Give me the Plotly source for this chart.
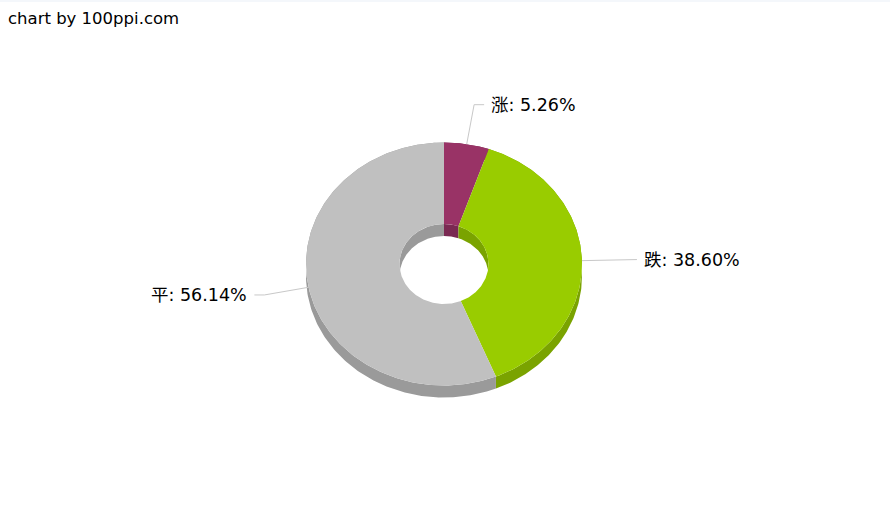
import numpy as np
import plotly.graph_objects as go

# ---- data ----
categories = ["涨", "跌", "平"]
counts = [3, 22, 32]
top_colors = ["#993366", "#99CC00", "#C0C0C0"]
side_colors = ["#7A2952", "#7AA300", "#9A9A9A"]
credit_text = "chart by 100ppi.com"

# ---- geometry (style) ----
W, H = 890, 526
cx, cy = 444.0, 264.0
rx, ry = 138.0, 121.5
irx, iry = 44.5, 40.0
depth = 12.0
lab_dx, lab_dy = 45.0, 40.0

total = float(sum(counts))
fracs = [c / total for c in counts]
pcts = [100.0 * f for f in fracs]
starts = np.cumsum([0.0] + fracs[:-1]) * 360.0
ends = np.cumsum(fracs) * 360.0


def arc(t1, t2, ax, ay, dy=0.0, n=200):
    t = np.radians(np.linspace(t1, t2, n))
    return cx + ax * np.sin(t), cy + dy - ay * np.cos(t)


fig = go.Figure()


def poly(xs, ys, color):
    fig.add_trace(go.Scatter(x=np.append(xs, xs[0]), y=np.append(ys, ys[0]),
                             mode="lines", fill="toself", fillcolor=color,
                             line=dict(width=0, color=color),
                             hoverinfo="skip", showlegend=False))


# outer side walls
for s, e, col in zip(starts, ends, side_colors):
    x1, y1 = arc(s, e, rx, ry)
    x2, y2 = arc(e, s, rx, ry, depth)
    poly(np.concatenate([x1, x2]), np.concatenate([y1, y2]), col)

# inner (back) walls of the hole: visible for upper half only
upper = [(-90.0, 90.0)]
for s, e, col in zip(starts, ends, side_colors):
    for shift in (0.0, 360.0):
        for a, b in upper:
            lo = max(s, a + shift)
            hi = min(e, b + shift)
            if hi > lo:
                x1, y1 = arc(lo, hi, irx, iry)
                x2, y2 = arc(hi, lo, irx, iry, depth)
                poly(np.concatenate([x1, x2]), np.concatenate([y1, y2]), col)

# top faces
for s, e, col in zip(starts, ends, top_colors):
    x1, y1 = arc(s, e, rx, ry)
    x2, y2 = arc(e, s, irx, iry)
    poly(np.concatenate([x1, x2]), np.concatenate([y1, y2]), col)

# connectors and labels
annotations = []
for cat, s, e, p in zip(categories, starts, ends, pcts):
    mid = np.radians((s + e) / 2.0)
    px, py = cx + rx * np.sin(mid), cy - ry * np.cos(mid)
    ex, ey = cx + (rx + lab_dx) * np.sin(mid), cy - (ry + lab_dy) * np.cos(mid)
    side = 1 if np.sin(mid) >= 0 else -1
    hx = ex + side * 10
    fig.add_trace(go.Scatter(x=[px, ex, hx], y=[py, ey, ey], mode="lines",
                             line=dict(color="#C8C8C8", width=1),
                             hoverinfo="skip", showlegend=False))
    annotations.append(dict(x=hx + side * 5, y=ey, xref="x", yref="y",
                            text=f"{cat}: {p:.2f}%", showarrow=False,
                            xanchor="left" if side > 0 else "right",
                            yanchor="middle",
                            font=dict(size=17.5, color="#000000",
                                      family="DejaVu Sans, Noto Sans CJK SC")))

annotations.append(dict(x=6, y=18, xref="x", yref="y", text=credit_text,
                        showarrow=False, xanchor="left", yanchor="middle",
                        font=dict(size=16.5, color="#000000",
                                  family="DejaVu Sans, Verdana, sans-serif")))

fig.update_layout(
    width=W, height=H, margin=dict(l=0, r=0, t=0, b=0),
    paper_bgcolor="white", plot_bgcolor="white",
    xaxis=dict(range=[0, W], visible=False, fixedrange=True),
    yaxis=dict(range=[H, 0], visible=False, fixedrange=True),
    annotations=annotations,
    shapes=[dict(type="rect", xref="x", yref="y", x0=0, x1=W, y0=0, y1=2,
                 fillcolor="#F4F7FB", line=dict(width=0), layer="below")],
)

fig.write_html("out.html", config={"displayModeBar": False},
               post_script="document.body.style.margin='0';document.body.style.overflow='hidden';")
